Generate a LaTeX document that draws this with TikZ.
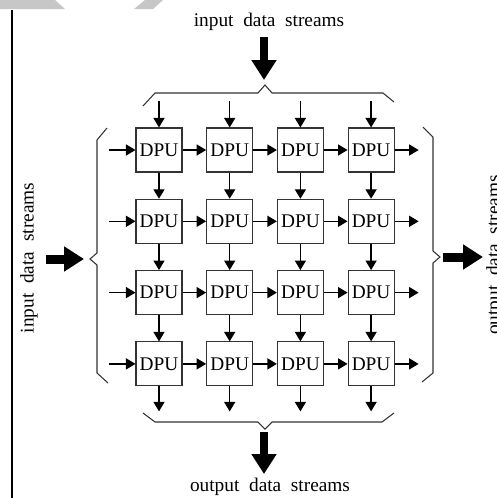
\documentclass[tikz,border=0pt]{standalone}
\usepackage{fontspec}
\setmainfont{Liberation Serif}
\usetikzlibrary{arrows.meta}
\tikzset{
  dpubox/.style={draw=black!80, line width=0.6pt, minimum width=0.92cm, minimum height=0.88cm, inner sep=0pt, font=\fontsize{11}{13}\selectfont},
  flow/.style={line width=0.8pt, -{Triangle[length=1.9mm,width=2.2mm]}},
  bigflow/.style={line width=1.8mm, -{Triangle[length=4mm,width=4.8mm]}},
  brace/.style={line width=0.6pt, draw=black!80},
  lbl/.style={font=\fontsize{11}{13}\selectfont}
}
\begin{document}
\begin{tikzpicture}
[x=0.02cm, y=-0.02cm]
\useasboundingbox (0,0) rectangle (497,498);
% faint marks at the top
\fill [black!22] (0,0) -- (55,0) -- (65,9) -- (0,9) -- cycle;
\fill [black!22] (145,0) -- (163,0) -- (153,9) -- (134,9) -- cycle;
\draw [line width=0.9pt] (12,10) -- (12,498);
% the DPU array
\foreach \i in {1,...,4}
  \foreach \j in {1,...,4}
    \node [dpubox] (d\i\j) at ({159+70.7*(\j-1)},{150+71.3*(\i-1)}) {DPU};
\foreach \i in {1,...,4} {
  \path (d\i1.west) ++(-26,0) coordinate (w\i);
  \path (d\i4.east) ++(24,0) coordinate (e\i);
  \draw [flow] (w\i) -- (d\i1);
  \draw [flow] (d\i4) -- (e\i);
  \foreach \j/\k in {1/2,2/3,3/4}
    \draw [flow] (d\i\j) -- (d\i\k);
}
\foreach \j in {1,...,4} {
  \path (d1\j.north) ++(0,-26) coordinate (n\j);
  \path (d4\j.south) ++(0,25) coordinate (s\j);
  \draw [flow] (n\j) -- (d1\j);
  \draw [flow] (d4\j) -- (s\j);
  \foreach \i/\k in {1/2,2/3,3/4}
    \draw [flow] (d\i\j) -- (d\k\j);
}
% braces
\draw [brace] (143,106) -- (155,93) -- (258,93) -- (265,85) -- (272,93) -- (383,93) -- (394,102);
\draw [brace] (143,413) -- (155,422) -- (258,422) -- (265,429) -- (272,422) -- (382,422) -- (394,413);
\draw [brace] (107,128) -- (97,140) -- (97,253) -- (90,259) -- (97,265) -- (97,373) -- (108,383);
\draw [brace] (423,127) -- (433,137) -- (433,251) -- (440,257) -- (433,263) -- (433,373) -- (422,382);
% streams
\node [lbl] (intop) at (269,22) {input~~data~~streams};
\node [lbl] (outbot) at (270,487) {output~~data~~streams};
\node [lbl, rotate=90] (inleft) at (29,258) {input~~data~~streams};
\node [lbl, rotate=90] (outright) at (495,255) {output~~data~~streams};
\coordinate (tsrc) at (264,37);
\coordinate (ttip) at (264,80);
\coordinate (bsrc) at (264,432);
\coordinate (btip) at (264,474);
\coordinate (lsrc) at (46,259);
\coordinate (ltip) at (84,259);
\coordinate (rsrc) at (443,257);
\coordinate (rtip) at (483,257);
\draw [bigflow] (tsrc) -- (ttip);
\draw [bigflow] (bsrc) -- (btip);
\draw [bigflow] (lsrc) -- (ltip);
\draw [bigflow] (rsrc) -- (rtip);
\end{tikzpicture}
\end{document}
